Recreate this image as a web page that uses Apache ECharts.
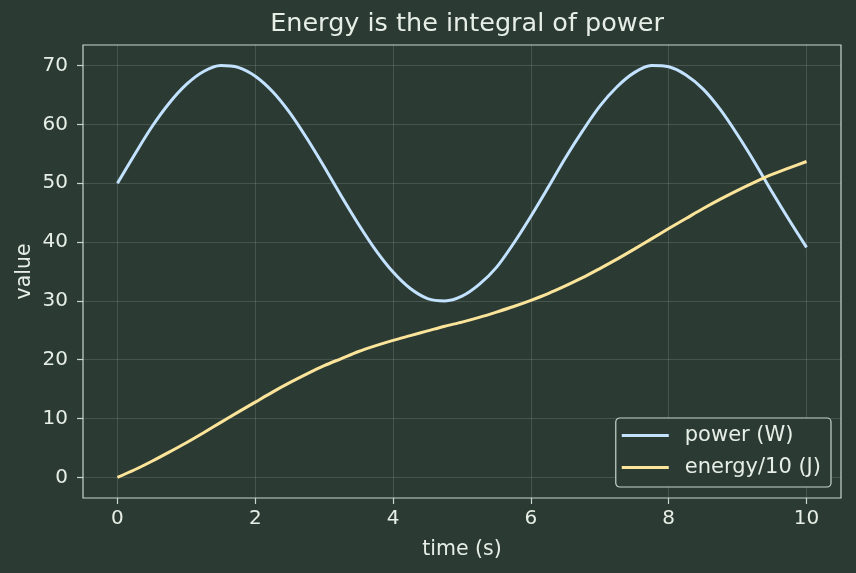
<!DOCTYPE html>
<html>
<head>
<meta charset="utf-8">
<script src="https://cdn.jsdelivr.net/npm/echarts@6/dist/echarts.min.js"></script>
<style>
  html, body { margin: 0; padding: 0; background: #2b3b33; }
  #chart { width: 856px; height: 573px; }
</style>
</head>
<body>
<div id="chart"></div>
<script>
// data
var times = [0, 0.25, 0.5, 0.75, 1, 1.25, 1.5, 1.75, 2, 2.25, 2.5, 2.75, 3, 3.25, 3.5, 3.75, 4, 4.25, 4.5, 4.75, 5,
             5.25, 5.5, 5.75, 6, 6.25, 6.5, 6.75, 7, 7.25, 7.5, 7.75, 8, 8.25, 8.5, 8.75, 9, 9.25, 9.5, 9.75, 10];
var power = [50, 54.9, 59.6, 63.6, 66.8, 69.0, 70.0, 69.7, 68.2, 65.6, 62.0, 57.6, 52.8, 47.8, 43.0, 38.6, 34.9, 32.1, 30.4, 30.0, 30.8,
             32.8, 35.7, 39.8, 44.4, 49.3, 54.3, 58.9, 63.1, 66.4, 68.8, 70.0, 69.8, 68.4, 66.0, 62.5, 58.2, 53.5, 48.5, 43.7, 39.1];
var energy = [0, 1.3, 2.75, 4.3, 5.9, 7.6, 9.35, 11.1, 12.8, 14.5, 16.1, 17.6, 19.0, 20.2, 21.4, 22.4, 23.3, 24.1, 24.9, 25.7, 26.4,
              27.2, 28.1, 29.05, 30.1, 31.25, 32.55, 33.95, 35.5, 37.1, 38.8, 40.55, 42.3, 44.0, 45.7, 47.3, 48.8, 50.2, 51.5, 52.6, 53.7];
var xTicks = [0, 2, 4, 6, 8, 10];
var yTicks = [0, 10, 20, 30, 40, 50, 60, 70];

var txt = '#e6eee6';
var frame = '#c9d6cc';
var font = 'DejaVu Sans';

function pairs(vals) {
  return times.map(function (t, i) { return [t, vals[i]]; });
}

var myChart = echarts.init(document.getElementById('chart'));

var option = {
  backgroundColor: '#2b3b33',
  animation: false,
  title: {
    text: 'Energy is the integral of power',
    left: 462,
    textAlign: 'center',
    top: 6,
    textStyle: { color: txt, fontSize: 25.5, fontWeight: 'normal', fontFamily: font }
  },
  grid: {
    left: 83, right: 15, top: 45, bottom: 75,
    show: true,
    borderColor: frame,
    borderWidth: 1.2,
    backgroundColor: 'transparent'
  },
  legend: {
    orient: 'vertical',
    right: 25,
    bottom: 86,
    padding: [7, 10, 9, 6],
    itemGap: 11,
    itemWidth: 47,
    itemHeight: 3,
    backgroundColor: '#2b3b33',
    borderColor: frame,
    borderWidth: 1.2,
    borderRadius: 4,
    textStyle: { color: txt, fontSize: 21, fontFamily: font, padding: [0, 0, 0, 11] },
    data: [
      { name: 'power (W)', icon: 'rect' },
      { name: 'energy/10 (J)', icon: 'rect' }
    ]
  },
  xAxis: {
    type: 'value',
    min: -0.5,
    max: 10.5,
    name: 'time (s)',
    nameLocation: 'middle',
    nameGap: 41,
    nameMoveOverlap: false,
    nameTextStyle: { color: txt, fontSize: 20.5, fontFamily: font },
    axisLine: { show: false, onZero: false },
    axisTick: { show: true, length: 6, lineStyle: { color: frame, width: 1.2 }, customValues: xTicks },
    axisLabel: { color: txt, fontSize: 20, fontFamily: font, margin: 11, customValues: xTicks },
    splitLine: { show: true, lineStyle: { color: 'rgba(255,255,255,0.13)', width: 1 } }
  },
  yAxis: {
    type: 'value',
    min: -3.5,
    max: 73.5,
    name: 'value',
    nameLocation: 'middle',
    nameGap: 48,
    nameMoveOverlap: false,
    nameTextStyle: { color: txt, fontSize: 20.5, fontFamily: font },
    axisLine: { show: false, onZero: false },
    axisTick: { show: true, length: 6, lineStyle: { color: frame, width: 1.2 }, customValues: yTicks },
    axisLabel: { color: txt, fontSize: 20, fontFamily: font, margin: 15, customValues: yTicks },
    splitLine: { show: true, lineStyle: { color: 'rgba(255,255,255,0.13)', width: 1 } }
  },
  series: [
    {
      name: 'power (W)',
      type: 'line',
      smooth: 0.3,
      showSymbol: false,
      data: pairs(power),
      color: '#c3e2ff',
      lineStyle: { width: 3, color: '#c3e2ff' }
    },
    {
      name: 'energy/10 (J)',
      type: 'line',
      smooth: 0.3,
      showSymbol: false,
      data: pairs(energy),
      color: '#fce59a',
      lineStyle: { width: 3, color: '#fce59a' }
    }
  ]
};

myChart.setOption(option);
</script>
</body>
</html>
